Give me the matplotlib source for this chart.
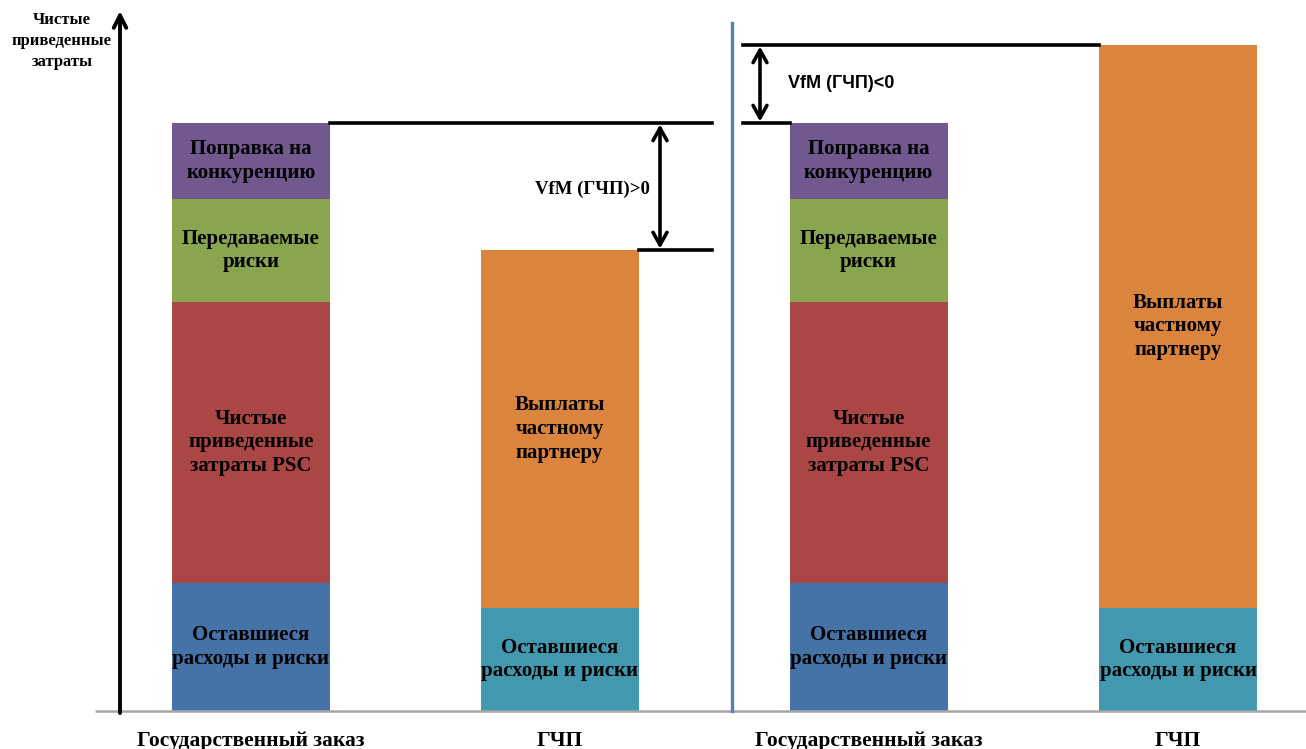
import matplotlib.pyplot as plt

# Стек для государственного заказа (PSC) и для ГЧП, условные единицы
categories = ['Государственный заказ', 'ГЧП', 'Государственный заказ', 'ГЧП']

psc_labels = ['Оставшиеся\nрасходы и риски', 'Чистые\nприведенные\nзатраты PSC',
              'Передаваемые\nриски', 'Поправка на\nконкуренцию']
psc_values = [128, 281, 103, 76]
psc_colors = ['#4572A7', '#AA4643', '#89A54E', '#71588F']

ppp_labels = ['Оставшиеся\nрасходы и риски', 'Выплаты\nчастному\nпартнеру']
ppp_values_low = [103, 358]    # VfM > 0
ppp_values_high = [103, 563]   # VfM < 0
ppp_colors = ['#4198AF', '#DB843D']

x_pos = [251, 559.5, 868.5, 1178]
bar_w = 158

fig = plt.figure(figsize=(13.06, 7.49), dpi=100)
ax = fig.add_axes([0, 0, 1, 1])
ax.set_xlim(0, 1306)
ax.set_ylim(-38, 711)
ax.axis('off')

serif = 'Liberation Serif'


def draw_stack(x, values, colors, labels):
    bottom = 0
    for v, c, lab in zip(values, colors, labels):
        ax.bar(x, v, width=bar_w, bottom=bottom, color=c, edgecolor='none')
        ax.text(x, bottom + v / 2, lab, ha='center', va='center', fontsize=15,
                fontweight='bold', family=serif, color='black', linespacing=1.25)
        bottom += v
    return bottom


top1 = draw_stack(x_pos[0], psc_values, psc_colors, psc_labels)
top2 = draw_stack(x_pos[1], ppp_values_low, ppp_colors, ppp_labels)
top3 = draw_stack(x_pos[2], psc_values, psc_colors, psc_labels)
top4 = draw_stack(x_pos[3], ppp_values_high, ppp_colors, ppp_labels)

# подписи категорий
for x, cat in zip(x_pos, categories):
    ax.text(x, -30, cat, ha='center', va='center', fontsize=15.5,
            fontweight='bold', family=serif)

# базовая линия и ось
ax.plot([95, 1306], [0, 0], color='#a6a6a6', lw=1.8, solid_capstyle='butt')
ax.annotate('', xy=(120, 700), xytext=(120, -2),
            arrowprops=dict(arrowstyle='->,head_length=0.9,head_width=0.45',
                            lw=2.8, color='black', shrinkA=0, shrinkB=0))
ax.text(62, 670, 'Чистые\nприведенные\nзатраты', ha='center', va='center',
        fontsize=12, fontweight='bold', family=serif, linespacing=1.38)

# разделитель
ax.plot([732, 732], [0, 688], color='#4F81BD', lw=2.4)

# VfM > 0
ax.plot([x_pos[0] + bar_w / 2, 712], [top1, top1], color='black', lw=2.6)
ax.plot([x_pos[1] + bar_w / 2, 712], [top2, top2], color='black', lw=2.6)
ax.annotate('', xy=(660, top1), xytext=(660, top2),
            arrowprops=dict(arrowstyle='<->,head_length=0.9,head_width=0.5',
                            lw=2.6, color='black', shrinkA=1, shrinkB=1))
ax.text(650, (top1 + top2) / 2 - 3, 'VfM (ГЧП)>0', ha='right', va='center',
        fontsize=13.5, fontweight='bold', family=serif)

# VfM < 0
ax.plot([743, x_pos[3] - bar_w / 2], [top4, top4], color='black', lw=2.6)
ax.plot([743, x_pos[2] - bar_w / 2], [top3, top3], color='black', lw=2.6)
ax.annotate('', xy=(760, top4), xytext=(760, top3),
            arrowprops=dict(arrowstyle='<->,head_length=0.9,head_width=0.5',
                            lw=2.6, color='black', shrinkA=1, shrinkB=1))
ax.text(788, (top3 + top4) / 2, 'VfM (ГЧП)<0', ha='left', va='center',
        fontsize=13, fontweight='bold', family='Liberation Sans')

fig.savefig('out.png', dpi=100)
